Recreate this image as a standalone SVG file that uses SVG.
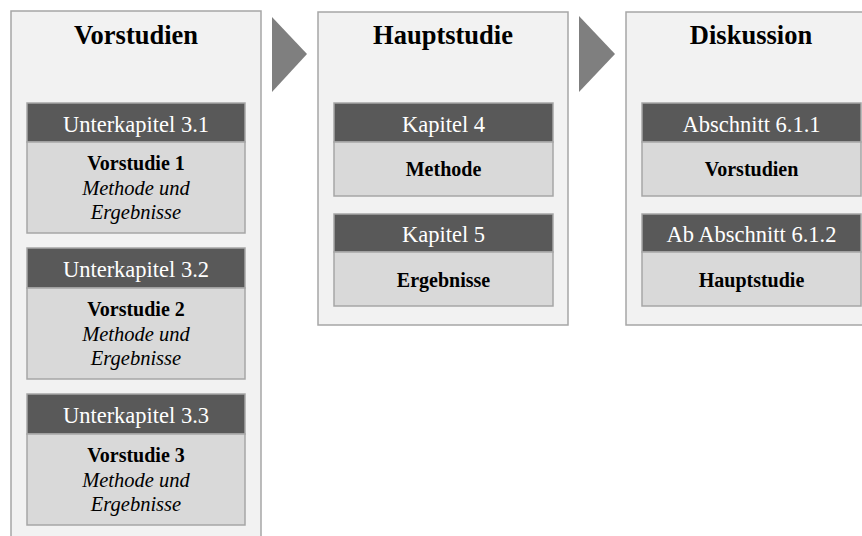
<svg xmlns="http://www.w3.org/2000/svg" width="862" height="536" viewBox="0 0 862 536">
  <style>
    text { font-family: "Liberation Serif", "Times New Roman", serif; text-anchor: middle; }
    .panel { fill: #f2f2f2; stroke: #a6a6a6; stroke-width: 1.5; }
    .head { fill: #595959; stroke: #a6a6a6; stroke-width: 1.5; }
    .body { fill: #d9d9d9; stroke: #a6a6a6; stroke-width: 1.5; }
    .title { font-size: 26.5px; font-weight: bold; fill: #000; }
    .htxt { font-size: 22.5px; fill: #fff; }
    .btxt { font-size: 20px; font-weight: bold; fill: #000; }
    .itxt { font-size: 20.5px; font-style: italic; fill: #000; }
    .arrow { fill: #7f7f7f; }
  </style>
  <rect width="862" height="536" fill="#ffffff"/>

  <!-- Connectors: process arrows between phases -->
  <g id="connectors">
    <polygon class="arrow" points="272,17 307,54 272,92"/>
    <polygon class="arrow" points="579,16 615,54 579,92"/>
  </g>

  <!-- Phase 1: Vorstudien -->
  <g id="vorstudien">
    <rect class="panel" x="11" y="11" width="250" height="540"/>
    <text class="title" x="136" y="44">Vorstudien</text>
  </g>
  <g id="unterkapitel-3-1">
    <rect class="head" x="27" y="103" width="218" height="39"/>
    <rect class="body" x="27" y="142" width="218" height="91"/>
    <text class="htxt" x="136" y="132">Unterkapitel 3.1</text>
    <text class="btxt" x="136" y="170">Vorstudie 1</text>
    <text class="itxt" x="136" y="195">Methode und</text>
    <text class="itxt" x="136" y="219">Ergebnisse</text>
  </g>
  <g id="unterkapitel-3-2">
    <rect class="head" x="27" y="248" width="218" height="40"/>
    <rect class="body" x="27" y="288" width="218" height="91"/>
    <text class="htxt" x="136" y="277">Unterkapitel 3.2</text>
    <text class="btxt" x="136" y="316">Vorstudie 2</text>
    <text class="itxt" x="136" y="341">Methode und</text>
    <text class="itxt" x="136" y="365">Ergebnisse</text>
  </g>
  <g id="unterkapitel-3-3">
    <rect class="head" x="27" y="394" width="218" height="40"/>
    <rect class="body" x="27" y="434" width="218" height="91"/>
    <text class="htxt" x="136" y="423">Unterkapitel 3.3</text>
    <text class="btxt" x="136" y="462">Vorstudie 3</text>
    <text class="itxt" x="136" y="487">Methode und</text>
    <text class="itxt" x="136" y="511">Ergebnisse</text>
  </g>

  <!-- Phase 2: Hauptstudie -->
  <g id="hauptstudie">
    <rect class="panel" x="318" y="12" width="250" height="313"/>
    <text class="title" x="443" y="44">Hauptstudie</text>
  </g>
  <g id="kapitel-4">
    <rect class="head" x="334" y="103" width="219" height="39"/>
    <rect class="body" x="334" y="142" width="219" height="54"/>
    <text class="htxt" x="443.5" y="132">Kapitel 4</text>
    <text class="btxt" x="443.5" y="176">Methode</text>
  </g>
  <g id="kapitel-5">
    <rect class="head" x="334" y="214" width="219" height="38"/>
    <rect class="body" x="334" y="252" width="219" height="54"/>
    <text class="htxt" x="443.5" y="242">Kapitel 5</text>
    <text class="btxt" x="443.5" y="287">Ergebnisse</text>
  </g>

  <!-- Phase 3: Diskussion -->
  <g id="diskussion">
    <rect class="panel" x="626" y="12" width="250" height="313"/>
    <text class="title" x="751" y="44">Diskussion</text>
  </g>
  <g id="abschnitt-6-1-1">
    <rect class="head" x="642" y="103" width="219" height="39"/>
    <rect class="body" x="642" y="142" width="219" height="54"/>
    <text class="htxt" x="751.5" y="132">Abschnitt 6.1.1</text>
    <text class="btxt" x="751.5" y="176">Vorstudien</text>
  </g>
  <g id="abschnitt-6-1-2">
    <rect class="head" x="642" y="214" width="219" height="38"/>
    <rect class="body" x="642" y="252" width="219" height="54"/>
    <text class="htxt" x="751.5" y="242">Ab Abschnitt 6.1.2</text>
    <text class="btxt" x="751.5" y="287">Hauptstudie</text>
  </g>
</svg>
